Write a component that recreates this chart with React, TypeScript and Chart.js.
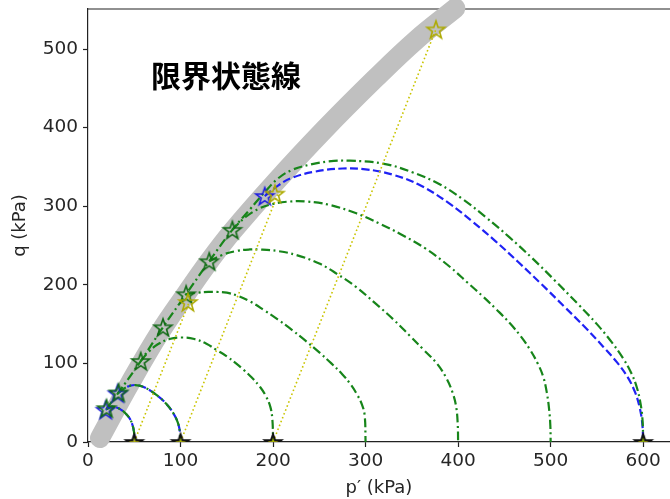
import React, { useEffect, useRef } from "react";
import { Chart, registerables } from "chart.js";

Chart.register(...registerables);

// ---- axis settings / tick labels ----
const X_TICKS = [0, 100, 200, 300, 400, 500, 600];
const Y_TICKS = [0, 100, 200, 300, 400, 500];
const X_MIN = 0;
const X_MAX = 629;
const Y_MIN = 0;
const Y_MAX = 551;
const X_TITLE = "p′ (kPa)";
const Y_TITLE = "q (kPa)";
const CSL_LABEL = "限界状態線";
const CSL_LABEL_AT = [68, 466];

// ---- critical state line (grey band) ----
const BAND_P = [13, 45, 78, 107, 131, 156, 202, 255, 310, 355, 397];
const BAND_Q = [5, 74, 140, 190, 230, 268, 330, 397, 462, 512, 552];

// ---- undrained paths (green dash-dot) ----
const G50_P = [20, 26, 33, 40, 45, 48, 49.8, 50];
const G50_Q = [42, 45, 43, 37, 30, 22, 12, 0];
const G100_P = [33, 42, 51, 62, 76, 85, 92, 97, 99.5, 100];
const G100_Q = [63, 70, 72.5, 69, 58, 48, 37, 25, 12, 0];
const G200_P = [57, 65, 75, 88, 101, 115, 128, 139, 150, 160, 168, 177, 186, 192, 197, 199.3, 200];
const G200_Q = [103, 114, 124, 131, 133, 131, 125, 117, 109, 100, 92, 82, 70, 59, 45, 28, 0];
const G300_P = [106, 118, 130, 139, 150, 162, 175, 190, 205, 220, 235, 250, 263, 275, 284, 291, 296, 299, 300];
const G300_Q = [188, 190, 191, 191, 190, 186, 179, 168, 156, 143, 129, 114, 100, 86, 73, 60, 48, 34, 0];
const G400_P = [131, 145, 160, 175, 186, 205, 225, 250, 269, 290, 310, 330, 348, 363, 377, 387, 394, 398, 399.6, 400];
const G400_Q = [230, 238, 243, 245, 245, 243, 238, 227, 214, 197, 177, 156, 135, 117, 100, 82, 63, 44, 22, 0];
const G500_P = [156, 170, 185, 200, 218, 236, 260, 290, 315, 337, 365, 391, 410, 427, 442, 456, 468, 478, 486, 492, 496, 498.5, 499.7, 500];
const G500_Q = [270, 286, 297, 303, 306, 306, 302, 291, 278, 265, 246, 223, 203, 185, 168, 151, 134, 117, 100, 83, 62, 40, 20, 0];
const G600_P = [20, 33, 57, 81, 106, 131, 156, 175, 191, 205, 220, 240, 260, 283, 320, 351, 380, 405, 430, 455, 480, 505, 530, 550, 566, 578, 587, 593, 597, 599.3, 600];
const G600_Q = [42, 63, 103, 146, 188, 230, 270, 296, 318, 335, 346, 353, 357, 358, 354, 343, 328, 309, 286, 261, 234, 205, 175, 150, 127, 107, 88, 70, 50, 28, 0];

// ---- blue dashed paths ----
const B50_P = [19, 26, 33, 40, 45, 48, 49.8, 50];
const B50_Q = [41, 45, 43, 37, 30, 22, 12, 0];
const B100_P = [32, 42, 51, 62, 76, 85, 92, 97, 99.5, 100];
const B100_Q = [62, 70, 72.5, 69, 58, 48, 37, 25, 12, 0];
const B600_P = [191, 205, 220, 245, 275, 300, 330, 360, 390, 415, 440, 465, 490, 515, 538, 557, 572, 583, 591, 596, 599, 600];
const B600_Q = [313, 326, 336, 344, 348, 347, 340, 326, 304, 281, 256, 229, 201, 172, 145, 121, 101, 83, 64, 45, 24, 0];

// ---- drained paths (yellow dotted) ----
const Y_START_P = [50, 100, 200];
const Y_END_P = [110, 205, 376];
const Y_END_Q = [180, 315, 525];

// ---- star markers ----
const GREEN_STAR_P = [20, 33, 57, 81, 106, 131, 156];
const GREEN_STAR_Q = [43, 63, 103, 146, 188, 230, 270];
const BLUE_STAR_P = [19, 32, 191];
const BLUE_STAR_Q = [41, 62, 313];
const YELLOW_STAR_P = [108, 202, 376];
const YELLOW_STAR_Q = [178, 316, 525];
const AXIS_STAR_P = [50, 100, 200, 600];
const AXIS_STAR_Q = [0, 0, 0, 0];

const pts = (p: number[], q: number[]) => p.map((x, i) => ({ x, y: q[i] }));

function makeStar(stroke: string, fill: string | null, R: number, lw: number) {
  const size = 2 * Math.ceil(R + lw + 1);
  const c = document.createElement("canvas");
  c.width = size;
  c.height = size;
  const ctx = c.getContext("2d")!;
  const cx = size / 2;
  const cy = size / 2 + R * 0.1;
  const r = R * 0.4;
  ctx.beginPath();
  for (let i = 0; i < 10; i++) {
    const rad = i % 2 === 0 ? R : r;
    const a = -Math.PI / 2 + (i * Math.PI) / 5;
    const x = cx + rad * Math.cos(a);
    const y = cy + rad * Math.sin(a);
    if (i === 0) ctx.moveTo(x, y);
    else ctx.lineTo(x, y);
  }
  ctx.closePath();
  if (fill) {
    ctx.fillStyle = fill;
    ctx.fill();
  }
  ctx.lineJoin = "miter";
  ctx.lineWidth = lw;
  ctx.strokeStyle = stroke;
  ctx.stroke();
  return c;
}

const GREEN = "#17851a";
const BLUE = "#1f22f5";
const YELLOW = "#c9c400";
const AXIS_COLOR = "#222222";
const TEXT_COLOR = "#262626";
const FONT = "'DejaVu Sans', sans-serif";

const zeroPad = (s: any) => {
  s.paddingTop = 0;
  s.paddingBottom = 0;
  s.paddingLeft = 0;
  s.paddingRight = 0;
};

export default function App() {
  const ref = useRef<HTMLCanvasElement>(null);

  useEffect(() => {
    const canvas = ref.current;
    if (!canvas) return;

    const greenStar = makeStar("#126a16", null, 9.3, 1.6);
    const blueStar = makeStar("#1d1de0", null, 9.3, 1.6);
    const yellowStar = makeStar("#adaa00", null, 9.3, 1.6);
    const axisStar = makeStar("#111111", "rgba(180,180,0,0.7)", 8.5, 2);

    const lineDs = (label: string, data: any[], color: string, dash: number[], width: number, order: number) => ({
      label,
      data,
      showLine: true,
      borderColor: color,
      borderWidth: width,
      borderDash: dash,
      pointRadius: 0,
      tension: 0.4,
      fill: false,
      order,
    });

    const starDs = (label: string, data: any[], img: HTMLCanvasElement, order: number) => ({
      label,
      data,
      showLine: false,
      pointStyle: img,
      pointRadius: 9,
      order,
    });

    const GDASH = [9, 3.5, 2, 3.5];
    const BDASH = [8, 3.5];
    const YDASH = [1.6, 2.6];

    const yellowLines = Y_START_P.map((p0, i) =>
      lineDs("drained " + p0, [{ x: p0, y: 0 }, { x: Y_END_P[i], y: Y_END_Q[i] }], YELLOW, YDASH, 1.6, 6)
    );

    const decor = {
      id: "decor",
      beforeDatasetsDraw(chart: any) {
        const { ctx, chartArea } = chart;
        ctx.save();
        ctx.strokeStyle = AXIS_COLOR;
        ctx.lineWidth = 1.2;
        ctx.beginPath();
        ctx.moveTo(chartArea.left, chartArea.top);
        ctx.lineTo(chartArea.right, chartArea.top);
        ctx.stroke();
        ctx.restore();
      },
      afterDatasetsDraw(chart: any) {
        const { ctx, scales } = chart;
        ctx.save();
        ctx.fillStyle = "#000";
        ctx.font = "bold 30px 'Noto Sans CJK JP', sans-serif";
        ctx.textBaseline = "middle";
        ctx.textAlign = "left";
        ctx.fillText(CSL_LABEL, scales.x.getPixelForValue(CSL_LABEL_AT[0]), scales.y.getPixelForValue(CSL_LABEL_AT[1]));
        ctx.restore();
      },
    };

    const chart = new Chart(canvas, {
      type: "scatter",
      data: {
        datasets: [
          starDs("axis stars", pts(AXIS_STAR_P, AXIS_STAR_Q), axisStar, 1),
          starDs("yellow stars", pts(YELLOW_STAR_P, YELLOW_STAR_Q), yellowStar, 2),
          starDs("green stars", pts(GREEN_STAR_P, GREEN_STAR_Q), greenStar, 3),
          starDs("blue stars", pts(BLUE_STAR_P, BLUE_STAR_Q), blueStar, 4),
          ...yellowLines,
          lineDs("p0=50", pts(G50_P, G50_Q), GREEN, GDASH, 2.2, 8),
          lineDs("p0=100", pts(G100_P, G100_Q), GREEN, GDASH, 2.2, 8),
          lineDs("p0=200", pts(G200_P, G200_Q), GREEN, GDASH, 2.2, 8),
          lineDs("p0=300", pts(G300_P, G300_Q), GREEN, GDASH, 2.2, 8),
          lineDs("p0=400", pts(G400_P, G400_Q), GREEN, GDASH, 2.2, 8),
          lineDs("p0=500", pts(G500_P, G500_Q), GREEN, GDASH, 2.2, 8),
          lineDs("p0=600", pts(G600_P, G600_Q), GREEN, GDASH, 2.2, 8),
          lineDs("blue 50", pts(B50_P, B50_Q), BLUE, BDASH, 2.2, 10),
          lineDs("blue 100", pts(B100_P, B100_Q), BLUE, BDASH, 2.2, 10),
          lineDs("blue 600", pts(B600_P, B600_Q), BLUE, BDASH, 2.2, 10),
          {
            label: "CSL",
            data: pts(BAND_P, BAND_Q),
            showLine: true,
            borderColor: "#c0c0c0",
            borderWidth: 20,
            borderCapStyle: "round",
            borderJoinStyle: "round",
            pointRadius: 0,
            tension: 0.4,
            fill: false,
            clip: false,
            order: 20,
          } as any,
        ] as any,
      },
      options: {
        responsive: false,
        animation: false,
        devicePixelRatio: 1,
        events: [],
        layout: { autoPadding: false, padding: { top: 9, left: 0, right: 0, bottom: 0 } },
        plugins: {
          legend: { display: false },
          tooltip: { enabled: false },
        },
        scales: {
          x: {
            type: "linear",
            position: "bottom",
            min: X_MIN,
            max: X_MAX,
            afterBuildTicks: (s: any) => {
              s.ticks = X_TICKS.map((v) => ({ value: v }));
            },
            afterFit: (s: any) => {
              s.height = 57;
              zeroPad(s);
            },
            grid: {
              display: true,
              drawOnChartArea: false,
              drawTicks: true,
              tickLength: 5,
              tickColor: AXIS_COLOR,
              tickWidth: 1.2,
            },
            border: { display: true, color: AXIS_COLOR, width: 1.2 },
            ticks: {
              font: { family: FONT, size: 18.5 },
              color: TEXT_COLOR,
              padding: 3,
              maxRotation: 0,
              autoSkip: false,
            },
            title: {
              display: true,
              text: X_TITLE,
              font: { family: FONT, size: 18 },
              color: TEXT_COLOR,
              padding: { top: 4, bottom: 0 },
            },
          },
          y: {
            type: "linear",
            position: "left",
            min: Y_MIN,
            max: Y_MAX,
            afterBuildTicks: (s: any) => {
              s.ticks = Y_TICKS.map((v) => ({ value: v }));
            },
            afterFit: (s: any) => {
              s.width = 88;
              zeroPad(s);
            },
            grid: {
              display: true,
              drawOnChartArea: false,
              drawTicks: true,
              tickLength: 5,
              tickColor: AXIS_COLOR,
              tickWidth: 1.2,
            },
            border: { display: true, color: AXIS_COLOR, width: 1.2 },
            ticks: {
              font: { family: FONT, size: 18.5 },
              color: TEXT_COLOR,
              padding: 5,
              autoSkip: false,
            },
            title: {
              display: true,
              text: Y_TITLE,
              font: { family: FONT, size: 18 },
              color: TEXT_COLOR,
              padding: { top: 10, bottom: 0 },
            },
          },
        },
      } as any,
      plugins: [decor],
    });

    return () => chart.destroy();
  }, []);

  return (
    <div style={{ position: "fixed", left: 0, top: 0, width: 670, height: 499, background: "#ffffff", overflow: "hidden" }}>
      <canvas ref={ref} width={670} height={499} style={{ width: 670, height: 499, display: "block" }} />
    </div>
  );
}
